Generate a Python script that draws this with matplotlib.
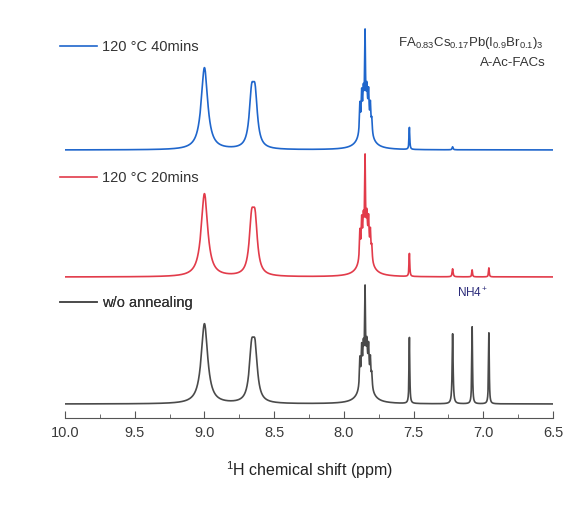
import numpy as np
import matplotlib
matplotlib.use('Agg')
import matplotlib.pyplot as plt
from matplotlib.lines import Line2D
from matplotlib.ticker import MultipleLocator

plt.rcParams['font.family'] = ['Liberation Sans', 'DejaVu Sans']
plt.rcParams['mathtext.fontset'] = 'custom'
plt.rcParams['mathtext.rm'] = 'Liberation Sans'
plt.rcParams['mathtext.it'] = 'Liberation Sans:italic'

# Sample labels, colours and vertical offsets of each trace
labels = ['120 °C 40mins', '120 °C 20mins', 'w/o annealing']
colors = ['#1f66cc', '#e23b4a', '#4a4a4a']
offsets = [268, 141, 14]

# Peak list (ppm) and half widths (ppm)
peak_pos = [9.00, 8.662, 8.637, 7.845, 7.885, 7.872, 7.86, 7.848, 7.835, 7.823, 7.81, 7.80,
            7.53, 7.22, 7.08, 6.96]
peak_hw = [0.028, 0.02, 0.02, 0.036, 0.004, 0.004, 0.004, 0.003, 0.004, 0.004, 0.004, 0.004,
           0.003, 0.004, 0.003, 0.003]

# Peak heights for each sample (arbitrary units)
heights_40 = [82, 47, 47, 36, 28, 32, 26, 78, 26, 30, 25, 14, 22, 3, 0, 0]
heights_20 = [83, 48, 48, 36, 28, 32, 26, 80, 26, 30, 25, 14, 23, 8, 7, 9]
heights_0 = [80, 46, 46, 35, 28, 32, 26, 77, 26, 30, 25, 14, 66, 70, 77, 71]
all_heights = [heights_40, heights_20, heights_0]

ppm = np.linspace(6.5, 10.0, 7001)


def spectrum(heights):
    y = np.zeros_like(ppm)
    for x0, w, h in zip(peak_pos, peak_hw, heights):
        y += h * w**2 / ((ppm - x0)**2 + w**2)
    return y


fig = plt.figure(figsize=(5.63, 5.09), dpi=100)
ax = fig.add_axes([0.1155, 0.1788, 0.8668, 0.782])

for lab, c, off, h in zip(labels, colors, offsets, all_heights):
    ax.plot(ppm, spectrum(h) + off, color=c, lw=1.2)

ax.set_xlim(10.0, 6.5)
ax.set_ylim(0, 398)

for spine in ['left', 'right', 'top']:
    ax.spines[spine].set_visible(False)
ax.spines['bottom'].set_color('#555555')
ax.set_yticks([])
ax.xaxis.set_minor_locator(MultipleLocator(0.25))
ax.tick_params(axis='x', which='major', direction='in', length=5, color='#555555',
               labelsize=10.5, labelcolor='#3a3a3a', pad=6)
ax.tick_params(axis='x', which='minor', direction='in', length=3, color='#555555')
ticks = np.arange(6.5, 10.01, 0.5)
ax.set_xticks(ticks)
ax.set_xticklabels(['%.1f' % v for v in ticks])
ax.set_xlabel('$^1$H chemical shift (ppm)', fontsize=11.5, color='#222222', labelpad=14)

# one small legend per trace, next to its curve
leg_y = [0.932, 0.603, 0.289]
for lab, c, yy in zip(labels, colors, leg_y):
    leg = ax.legend(handles=[Line2D([], [], color=c, lw=1.2)], labels=[lab],
                    loc='center left', bbox_to_anchor=(-0.0102, yy), frameon=False,
                    borderpad=0, borderaxespad=0, handlelength=2.5, handletextpad=0.35,
                    fontsize=10.5, labelcolor='#333333')
    ax.add_artist(leg)

ax.text(0.98, 0.942, 'FA$_{0.83}$Cs$_{0.17}$Pb(I$_{0.9}$Br$_{0.1}$)$_3$', transform=ax.transAxes,
        ha='right', va='center', fontsize=9.5, color='#333333')
ax.text(0.986, 0.892, 'A-Ac-FACs', transform=ax.transAxes,
        ha='right', va='center', fontsize=9.5, color='#333333')
ax.text(7.074, 125, 'NH4$^+$', ha='center', va='center', fontsize=8.5, color='#2b2b7a')

fig.savefig('out.png', dpi=100)
